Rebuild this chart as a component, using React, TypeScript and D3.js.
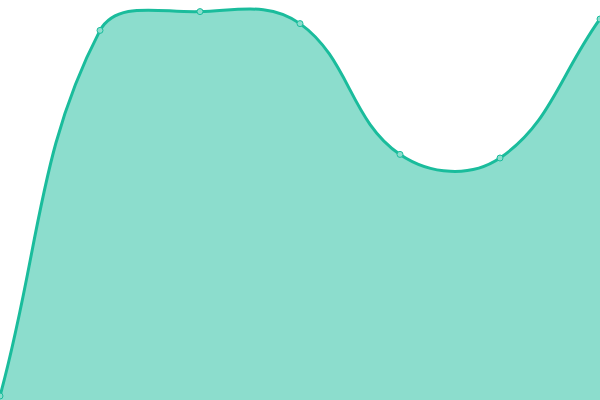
import { useEffect, useRef } from "react";
import * as d3 from "d3";

// Series (value scale 0..100)
const positions = [0, 1, 2, 3, 4, 5, 6];
const values = [1, 92.4, 97.1, 94.1, 61.4, 60.5, 95.25];

const WIDTH = 600;
const HEIGHT = 400;
const LINE_COLOR = "#1abc9c";
const TENSION = 0.4;

// Bezier spline whose control points scale with the distance to each neighbour,
// clamped to the plot box (same feel as a "tension" spline).
function splineCurve(tension: number, box: [number, number, number, number]) {
  return (context: any) => {
    let line = 0;
    let pts: [number, number][] = [];
    const clamp = (v: number, lo: number, hi: number) => Math.max(lo, Math.min(hi, v));
    return {
      areaStart() {
        line = 0;
      },
      areaEnd() {
        line = NaN;
      },
      lineStart() {
        pts = [];
      },
      point(x: number, y: number) {
        pts.push([+x, +y]);
      },
      lineEnd() {
        const n = pts.length;
        if (n > 0) {
          if (line) context.lineTo(pts[0][0], pts[0][1]);
          else context.moveTo(pts[0][0], pts[0][1]);
          const cps = pts.map((cur, i) => {
            const prev = pts[i - 1] || cur;
            const next = pts[i + 1] || cur;
            const d01 = Math.hypot(cur[0] - prev[0], cur[1] - prev[1]);
            const d12 = Math.hypot(next[0] - cur[0], next[1] - cur[1]);
            let s01 = d01 / (d01 + d12);
            let s12 = d12 / (d01 + d12);
            if (isNaN(s01)) s01 = 0;
            if (isNaN(s12)) s12 = 0;
            const fa = tension * s01;
            const fb = tension * s12;
            const dx = next[0] - prev[0];
            const dy = next[1] - prev[1];
            return {
              px: clamp(cur[0] - fa * dx, box[0], box[2]),
              py: clamp(cur[1] - fa * dy, box[1], box[3]),
              nx: clamp(cur[0] + fb * dx, box[0], box[2]),
              ny: clamp(cur[1] + fb * dy, box[1], box[3]),
            };
          });
          for (let i = 1; i < n; i++) {
            context.bezierCurveTo(
              cps[i - 1].nx,
              cps[i - 1].ny,
              cps[i].px,
              cps[i].py,
              pts[i][0],
              pts[i][1]
            );
          }
        }
        if (line || (line !== 0 && n === 1)) context.closePath();
        line = 1 - line;
      },
    };
  };
}

export default function App() {
  const svgRef = useRef<SVGSVGElement>(null);

  useEffect(() => {
    if (!svgRef.current) return;
    const svg = d3.select(svgRef.current);
    svg.selectAll("*").remove();

    const data = positions.map((p, i) => ({ p, v: values[i] }));

    const x = d3.scaleLinear().domain([0, 6]).range([0, WIDTH]);
    const y = d3.scaleLinear().domain([0, 100]).range([HEIGHT, 0]);

    const curve = splineCurve(TENSION, [0, 0, WIDTH, HEIGHT]) as any;

    const area = d3
      .area<{ p: number; v: number }>()
      .x((d) => x(d.p))
      .y0(HEIGHT)
      .y1((d) => y(d.v))
      .curve(curve);

    const line = d3
      .line<{ p: number; v: number }>()
      .x((d) => x(d.p))
      .y((d) => y(d.v))
      .curve(curve);

    svg
      .append("path")
      .datum(data)
      .attr("d", area)
      .attr("fill", LINE_COLOR)
      .attr("fill-opacity", 0.5);

    svg
      .append("path")
      .datum(data)
      .attr("d", line)
      .attr("fill", "none")
      .attr("stroke", LINE_COLOR)
      .attr("stroke-width", 3);

    svg
      .selectAll(".dot")
      .data(data)
      .enter()
      .append("circle")
      .attr("class", "dot")
      .attr("cx", (d) => x(d.p))
      .attr("cy", (d) => y(d.v))
      .attr("r", 3)
      .attr("fill", "#8cddcd")
      .attr("stroke", LINE_COLOR)
      .attr("stroke-width", 1);
  }, []);

  return (
    <svg
      ref={svgRef}
      width={WIDTH}
      height={HEIGHT}
      style={{ position: "absolute", left: 0, top: 0, display: "block" }}
    />
  );
}
